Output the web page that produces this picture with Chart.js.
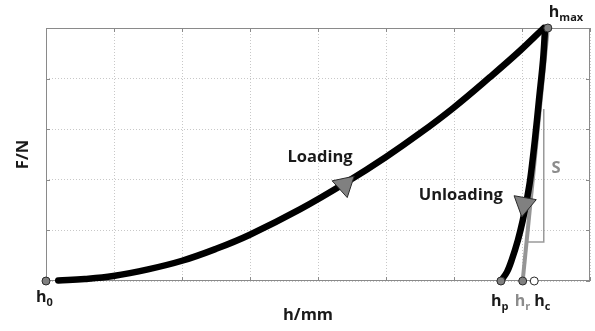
<!DOCTYPE html>
<html>
<head>
<meta charset="utf-8">
<script src="https://cdn.jsdelivr.net/npm/chart.js@4.4.1/dist/chart.umd.min.js"></script>
<style>
  html, body { margin: 0; padding: 0; background: #ffffff; }
  #wrap { width: 595px; height: 331px; }
</style>
</head>
<body>
<div id="wrap"><canvas id="c" width="595" height="331"></canvas></div>
<script>
// ---- data ----
const xTicks = [0, 1, 2, 3, 4, 5, 6, 7, 8];
const yTicks = [0, 1, 2, 3, 4, 5];

const loadX = [0.18, 0.57, 0.99, 1.5, 2.0, 2.49, 2.99, 3.74, 4.43, 5.0, 5.5, 5.99, 6.53, 6.97, 7.32];
const loadY = [0.01, 0.04, 0.10, 0.23, 0.40, 0.63, 0.91, 1.42, 1.96, 2.45, 2.92, 3.42, 4.03, 4.55, 5.0];

const unloadX = [7.34, 7.31, 7.25, 7.19, 7.12, 7.07, 7.01, 6.94, 6.85, 6.78, 6.69];
const unloadY = [5.0, 4.37, 3.58, 2.79, 2.0, 1.6, 1.19, 0.81, 0.42, 0.18, 0.0];

const tangentX = [7.38, 7.01];
const tangentY = [5.0, 0.0];

const bracketX = [7.32, 7.32, 7.07];
const bracketY = [3.4, 0.77, 0.77];

const pointNames = ['h0', 'hmax', 'hp', 'hr', 'hc'];
const pointX = [0.0, 7.38, 6.69, 7.01, 7.18];
const pointY = [0.0, 5.0, 0.0, 0.0, 0.0];

const arrowX = [4.39, 7.03];
const arrowY = [1.9, 1.52];
const arrowRot = [168, 190];

const textLabels = ['Loading', 'Unloading', 'S'];
const textX = [4.03, 6.10, 7.50];
const textY = [2.35, 1.60, 2.13];

const xTitle = 'h/mm';
const yTitle = 'F/N';

// ---- build ----
const pts = (xs, ys) => xs.map((x, i) => ({ x: x, y: ys[i] }));

const FONT = '"Open Sans", "DejaVu Sans", sans-serif';

const overlay = {
  id: 'overlay',
  beforeDatasetsDraw(chart) {
    const { ctx, chartArea: a, scales } = chart;
    ctx.save();
    // frame
    ctx.strokeStyle = '#8a8a8a';
    ctx.lineWidth = 1;
    ctx.strokeRect(a.left + 0.5, a.top + 0.5, a.right - a.left - 1, a.bottom - a.top - 1);
    // inner ticks
    const tl = 4;
    ctx.beginPath();
    xTicks.forEach(v => {
      const px = Math.round(scales.x.getPixelForValue(v)) + 0.5;
      ctx.moveTo(px, a.bottom); ctx.lineTo(px, a.bottom - tl);
      ctx.moveTo(px, a.top); ctx.lineTo(px, a.top + tl);
    });
    yTicks.forEach(v => {
      const py = Math.round(scales.y.getPixelForValue(v)) + 0.5;
      ctx.moveTo(a.left, py); ctx.lineTo(a.left + tl, py);
      ctx.moveTo(a.right, py); ctx.lineTo(a.right - tl, py);
    });
    ctx.stroke();
    ctx.restore();
  },
  afterDatasetsDraw(chart) {
    const { ctx, chartArea: a, scales } = chart;
    const X = v => scales.x.getPixelForValue(v);
    const Y = v => scales.y.getPixelForValue(v);
    ctx.save();
    ctx.textBaseline = 'alphabetic';
    // text labels
    textLabels.forEach((t, i) => {
      ctx.font = 'bold 16.5px ' + FONT;
      ctx.fillStyle = t === 'S' ? '#8c8c8c' : '#1a1a1a';
      ctx.textAlign = 'center';
      ctx.fillText(t, X(textX[i]), Y(textY[i]));
    });
    // point labels with subscripts
    const subs = { h0: '0', hmax: 'max', hp: 'p', hr: 'r', hc: 'c' };
    const lab = {
      h0:   { dx: -10, dy: 21, col: '#1a1a1a' },
      hmax: { dx: 1,   dy: -11, col: '#1a1a1a' },
      hp:   { dx: -10, dy: 25, col: '#1a1a1a' },
      hr:   { dx: -8,  dy: 25, col: '#8c8c8c' },
      hc:   { dx: 0,   dy: 25, col: '#1a1a1a' }
    };
    pointNames.forEach((n, i) => {
      const L = lab[n];
      const bx = X(pointX[i]) + L.dx, by = Y(pointY[i]) + L.dy;
      ctx.fillStyle = L.col;
      ctx.textAlign = 'left';
      ctx.font = 'bold 16px ' + FONT;
      ctx.fillText('h', bx, by);
      const w = ctx.measureText('h').width;
      ctx.font = 'bold 11px ' + FONT;
      ctx.fillText(subs[n], bx + w, by + 4);
    });
    // axis titles
    ctx.fillStyle = '#1a1a1a';
    ctx.font = 'bold 16.5px ' + FONT;
    ctx.textAlign = 'center';
    ctx.fillText(xTitle, (a.left + a.right) / 2 - 10, a.bottom + 39);
    ctx.save();
    ctx.translate(a.left - 18, (a.top + a.bottom) / 2);
    ctx.rotate(-Math.PI / 2);
    ctx.fillText(yTitle, 0, 0);
    ctx.restore();
    ctx.restore();
  }
};

new Chart(document.getElementById('c'), {
  type: 'scatter',
  data: {
    datasets: [
      { label: 'tangent', data: pts(tangentX, tangentY), showLine: true, borderColor: '#959595', borderWidth: 4, pointRadius: 0, tension: 0, clip: false, order: 3 },
      { label: 'bracket', data: pts(bracketX, bracketY), showLine: true, borderColor: '#9a9a9a', borderWidth: 1.5, pointRadius: 0, tension: 0, clip: false, order: 4 },
      { label: 'loading', data: pts(loadX, loadY), showLine: true, borderColor: '#000000', borderWidth: 6.5, pointRadius: 0, tension: 0.4, borderCapStyle: 'round', borderJoinStyle: 'round', clip: false, order: 2 },
      { label: 'unloading', data: pts(unloadX, unloadY), showLine: true, borderColor: '#000000', borderWidth: 6.5, pointRadius: 0, tension: 0.35, borderCapStyle: 'round', borderJoinStyle: 'round', clip: false, order: 2 },
      { label: 'arrows', data: pts(arrowX, arrowY), showLine: false, pointStyle: 'triangle', pointRadius: 13, pointRotation: arrowRot, backgroundColor: '#808080', borderColor: '#2a2a2a', borderWidth: 1, clip: false, order: 1 },
      { label: 'points', data: pts(pointX, pointY), showLine: false, pointStyle: 'circle', pointRadius: 4, backgroundColor: ['#808080', '#808080', '#808080', '#808080', '#ffffff'], borderColor: '#2a2a2a', borderWidth: 1, clip: false, order: 0 }
    ]
  },
  options: {
    responsive: false,
    animation: false,
    events: [],
    layout: { autoPadding: false, padding: { left: 46, top: 28, right: 5, bottom: 50 } },
    plugins: { legend: { display: false }, tooltip: { enabled: false }, title: { display: false } },
    scales: {
      x: {
        type: 'linear', min: 0, max: 8,
        ticks: { display: false, stepSize: 1 },
        grid: { color: '#c8c8c8', lineWidth: 1, drawTicks: false, tickLength: 0 },
        border: { display: false, dash: [1, 2] },
        afterBuildTicks: s => { s.ticks = xTicks.map(v => ({ value: v })); }
      },
      y: {
        type: 'linear', min: 0, max: 5,
        ticks: { display: false, stepSize: 1 },
        grid: { color: '#c8c8c8', lineWidth: 1, drawTicks: false, tickLength: 0 },
        border: { display: false, dash: [1, 2] },
        afterBuildTicks: s => { s.ticks = yTicks.map(v => ({ value: v })); }
      }
    }
  },
  plugins: [overlay]
});
</script>
</body>
</html>
